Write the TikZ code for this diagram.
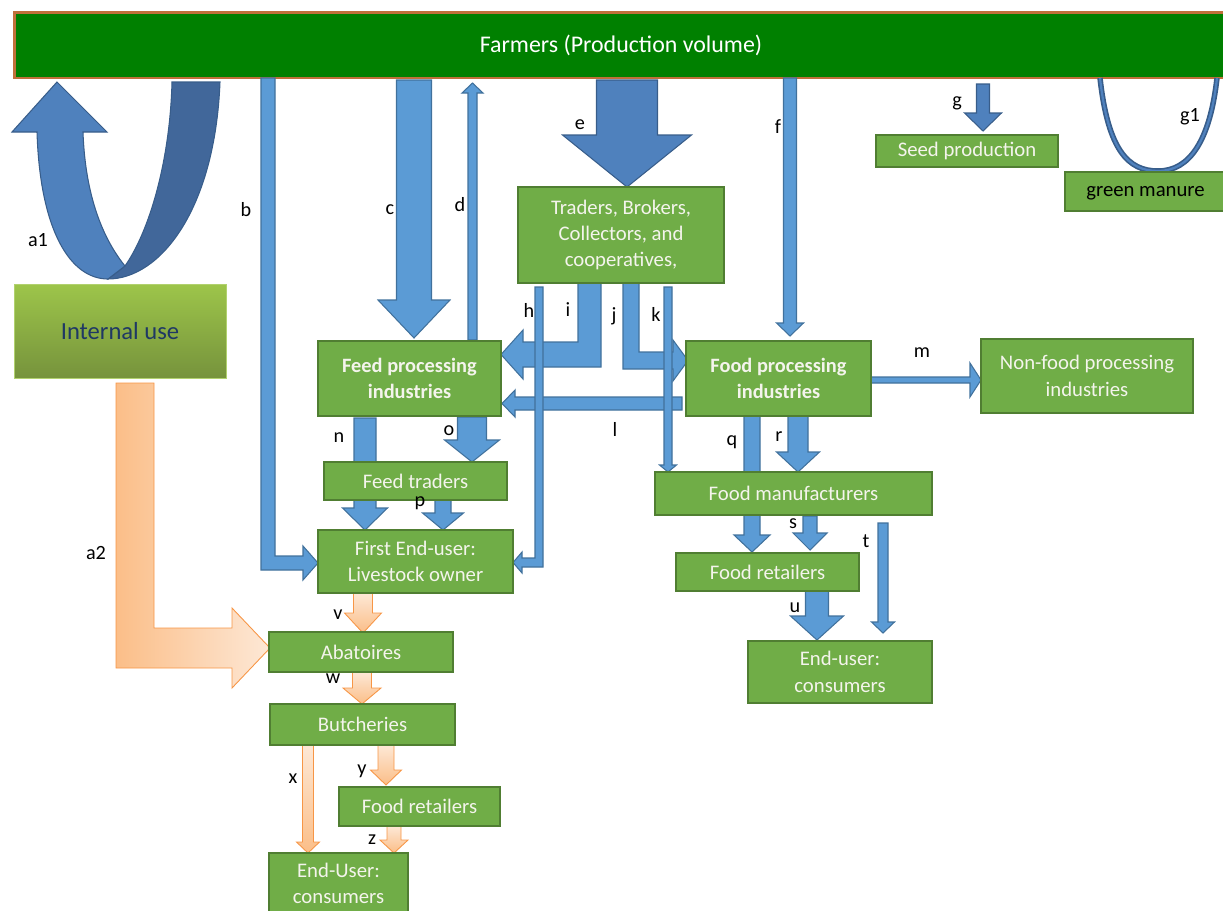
\documentclass[tikz,border=0pt]{standalone}
\usepackage{fontspec}
\setmainfont{Carlito}
\usetikzlibrary{calc}
\definecolor{gfill}{HTML}{70AD47}
\definecolor{gborder}{HTML}{507E32}
\definecolor{bfill}{HTML}{5B9BD5}
\definecolor{bborder}{HTML}{41719C}
\definecolor{dfill}{HTML}{4F81BD}
\definecolor{dborder}{HTML}{385D8A}
\definecolor{udark}{HTML}{41679A}
\definecolor{ofillA}{HTML}{FBBE88}
\definecolor{ofillB}{HTML}{FDE8D6}
\definecolor{oborder}{HTML}{F79646}
\definecolor{farmfill}{HTML}{008000}
\definecolor{farmborder}{HTML}{C0703A}
\definecolor{boxtext}{HTML}{F4F4EC}
\definecolor{navy}{HTML}{1F3864}
\definecolor{iuTop}{HTML}{9DC54A}
\definecolor{iuBot}{HTML}{76933C}
% vertical block arrow: [style]{xc}{shaft w}{y start}{y head base}{head w}{y tip}
\newcommand\varrow[7][blockblue]{\draw[#1] ({#2-#3/2},#4) -- ({#2+#3/2},#4) -- ({#2+#3/2},#5) -- ({#2+#6/2},#5) -- (#2,#7) -- ({#2-#6/2},#5) -- ({#2-#3/2},#5) -- cycle;}
% horizontal block arrow: [style]{yc}{shaft w}{x start}{x head base}{head w}{x tip}
\newcommand\harrow[7][blockblue]{\draw[#1] (#4,{#2-#3/2}) -- (#5,{#2-#3/2}) -- (#5,{#2-#6/2}) -- (#7,#2) -- (#5,{#2+#6/2}) -- (#5,{#2+#3/2}) -- (#4,{#2+#3/2}) -- cycle;}
% green box: [style]{name}{x1}{y1}{x2}{y2}{text}
\newcommand\gbox[7][]{\node[gboxst,#1,minimum width={(#5-#3)*0.02cm},minimum height={(#6-#4)*0.02cm}] (#2) at ({(#3+#5)/2},{(#4+#6)/2}) {#7};}
\tikzset{
  gboxst/.style={draw=gborder,fill=gfill,line width=0.9pt,text=boxtext,font=\fontsize{11.8}{15}\selectfont,align=center,inner sep=0pt},
  blockblue/.style={draw=bborder,fill=bfill,line width=0.6pt},
  blockdark/.style={draw=dborder,fill=dfill,line width=0.6pt},
  blockorange/.style={draw=oborder,line width=0.5pt,top color=ofillB,bottom color=ofillA},
  lab/.style={font=\fontsize{11.5}{13}\selectfont,text=black,inner sep=0pt}
}
\begin{document}
\begin{tikzpicture}[x=0.02cm,y=-0.02cm]
\useasboundingbox (0,0) rectangle (1223,910);
\clip (0,0) rectangle (1223,910);

% Farmers
\node[draw=farmborder,fill=farmfill,line width=1.7pt,minimum width=24.28cm,minimum height=1.32cm,inner sep=0pt,text=white,font=\fontsize{13.6}{15}\selectfont] (farmers) at (621,45) {Farmers (Production volume)};

% a1 U-turn arrow
\filldraw[fill=udark,draw=dborder,line width=0.6pt] (172,82) -- (220,82) .. controls (215,210) and (160,279) .. (108,279) -- (125,266) .. controls (150,230) and (170,160) .. (172,82) -- cycle;
\filldraw[fill=dfill,draw=dborder,line width=0.6pt] (83,132) -- (107,132) -- (57,82) -- (12,132) -- (37,132) .. controls (40,230) and (70,279) .. (108,279) -- (125,266) .. controls (100,235) and (85,190) .. (83,132) -- cycle;

% g1 loop
\draw[line width=0.11cm,draw=dborder] (1100,78) .. controls (1108,150) and (1128,171) .. (1158,171) .. controls (1190,171) and (1210,140) .. (1217,78);
\draw[line width=0.045cm,draw=dfill] (1100,78) .. controls (1108,150) and (1128,171) .. (1158,171) .. controls (1190,171) and (1210,140) .. (1217,78);

% b
\draw[blockblue] (261,78) -- (275,78) -- (275,556) -- (303,556) -- (303,546) -- (318,563) -- (303,580) -- (303,570) -- (261,570) -- cycle;
% c, d, e, f, g
\varrow{414}{35}{80}{300}{72}{338}
\varrow{472.5}{9}{340}{93}{21}{83}
\varrow[blockdark]{627}{61}{80}{135}{129}{187}
\varrow{790}{13}{78}{323}{27}{336}
\varrow[blockdark]{983}{13}{84}{113}{37}{131}

% i, j, l
\draw[blockblue] (578,283) -- (601,283) -- (601,367) -- (523,367) -- (523,379) -- (501,354.5) -- (523,330) -- (523,342) -- (578,342) -- cycle;
\draw[blockblue] (623,283) -- (639,283) -- (639,352) -- (673,352) -- (673,340) -- (688,360.5) -- (673,381) -- (673,369) -- (623,369) -- cycle;
\harrow{403.5}{13}{682}{515}{27}{502}
% h, k
\draw[blockblue] (535,287) -- (543,287) -- (543,567) -- (522,567) -- (522,573) -- (513,562.5) -- (522,552) -- (522,558) -- (535,558) -- cycle;
\varrow{668}{8}{287}{465}{17}{472}

% m
\harrow{380}{6}{871}{970}{34}{981}
% n, o, p
\varrow{365}{22}{418}{508}{45}{530}
\varrow{472}{29}{417}{440}{55}{462}
\varrow{443}{16}{500}{513}{41}{530}
% q, r, s, t, u
\varrow{752}{16}{416}{535}{36}{552}
\varrow{798}{20}{416}{452}{43}{472}
\varrow{810}{14}{516}{533}{34}{550}
\varrow{883}{10}{523}{622}{23}{633}
\varrow{817}{23}{591}{616}{53}{640}

% orange arrows
\draw[draw=oborder,line width=0.5pt,left color=ofillA,right color=ofillB] (116,383) -- (154,383) -- (154,628) -- (232,628) -- (232,608) -- (270,648) -- (232,688) -- (232,668) -- (116,668) -- cycle;
\varrow[blockorange]{363}{19}{593}{613}{37}{633}
\varrow[blockorange]{362}{19}{672}{688}{38}{704}
\varrow[blockorange]{308}{11}{745}{842}{23}{853}
\varrow[blockorange]{386}{16}{745}{770}{31}{785}
\varrow[blockorange]{394}{14}{826}{840}{28}{853}

% boxes
\node[draw=iuTop!80!white,line width=0.4pt,top color=iuTop,bottom color=iuBot,minimum width=4.24cm,minimum height=1.88cm,inner sep=0pt,text=navy,font=\fontsize{14}{16}\selectfont] (internal) at (120,331) {Internal use};
\gbox{seed}{876}{135}{1058}{167}{Seed production}
\gbox[text=black,text height=0.75em,text depth=0.2em]{manure}{1065}{172}{1226}{211}{green manure}
\gbox{traders}{518}{187}{724}{283}{Traders, Brokers,\\Collectors, and\\cooperatives,}
\gbox[font=\bfseries\fontsize{11.6}{15}\selectfont]{feedproc}{318}{341}{501}{416}{Feed processing\\industries}
\gbox[font=\bfseries\fontsize{11.6}{15}\selectfont]{foodproc}{686}{341}{871}{416}{Food processing\\industries}
\gbox{nonfood}{981}{339}{1193}{413}{Non-food processing\\industries}
\gbox{feedtraders}{324}{462}{507}{500}{Feed traders}
\gbox{firstend}{318}{530}{513}{593}{First End-user:\\Livestock owner}
\gbox{foodman}{655}{472}{932}{515}{Food manufacturers}
\gbox{foodret}{676}{553}{859}{591}{Food retailers}
\gbox{endright}{748}{641}{932}{703}{End-user:\\consumers}
\gbox{abatoires}{269}{632}{453}{672}{Abatoires}
\gbox{butcheries}{270}{704}{455}{745}{Butcheries}
\gbox{foodretl}{339}{787}{500}{826}{Food retailers}
\gbox{endleft}{269}{853}{408}{914}{End-User:\\consumers}

% labels
\node[lab] (la1) at (38,240) {a1};
\node[lab] (la2) at (96,553) {a2};
\node[lab] (lb) at (246,210) {b};
\node[lab] (lc) at (390,210) {c};
\node[lab] (ld) at (460,205) {d};
\node[lab] (le) at (580,125) {e};
\node[lab] (lf) at (778,127) {f};
\node[lab] (lg) at (957,103) {g};
\node[lab] (lg1) at (1190,117) {g1};
\node[lab] (lh) at (529,310) {h};
\node[lab] (li) at (568,310) {i};
\node[lab] (lj) at (614,316) {j};
\node[lab] (lk) at (656,314) {k};
\node[lab] (ll) at (615,429) {l};
\node[lab] (lm) at (922,353) {m};
\node[lab] (ln) at (339,438) {n};
\node[lab] (lo) at (449,431) {o};
\node[lab] (lp) at (420,503) {p};
\node[lab] (lq) at (732,442) {q};
\node[lab] (lr) at (779,437) {r};
\node[lab] (ls) at (793,524) {s};
\node[lab] (lt) at (866,541) {t};
\node[lab] (lu) at (795,608) {u};
\node[lab] (lv) at (338,615) {v};
\node[lab] (lw) at (333,679) {w};
\node[lab] (lx) at (293,779) {x};
\node[lab] (ly) at (362,771) {y};
\node[lab] (lz) at (372,840) {z};
\end{tikzpicture}
\end{document}
